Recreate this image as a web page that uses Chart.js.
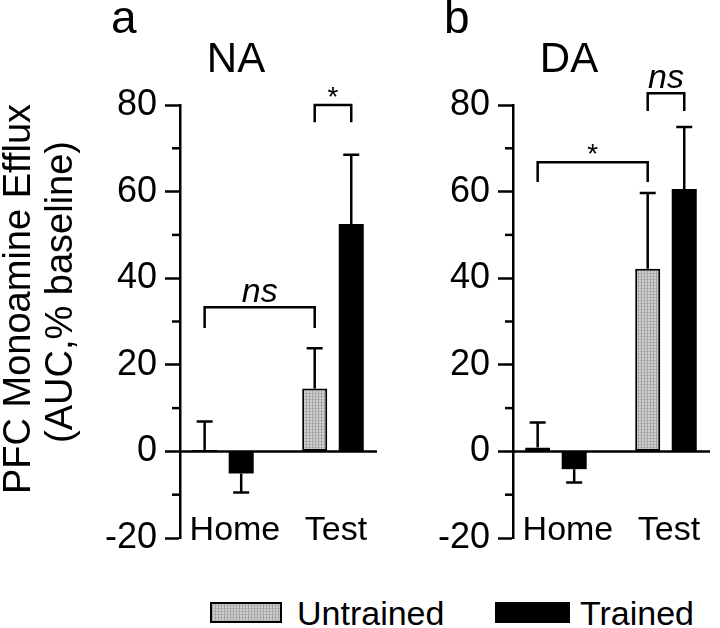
<!DOCTYPE html>
<html>
<head>
<meta charset="utf-8">
<script src="https://cdn.jsdelivr.net/npm/chart.js@4.4.1/dist/chart.umd.min.js"></script>
<style>
  html, body { margin: 0; padding: 0; background: #fff; }
  #wrap { position: relative; width: 720px; height: 628px; overflow: hidden; background: #fff; font-family: "Liberation Sans", Arial, sans-serif; }
  #cA { position: absolute; left: 0; top: 0; }
  #cB { position: absolute; left: 380px; top: 0; }
  .sw { position: absolute; box-sizing: border-box; border: 2px solid #000; }
  .sw.u { background-color: #d0d0d0;
    background-image: repeating-linear-gradient(90deg, #a4a4a4 0 1px, transparent 1px 3px),
                      repeating-linear-gradient(0deg, #b2b2b2 0 1px, transparent 1px 3px); }
  .sw.t { background: #000; }
  .lt { position: absolute; font-size: 34px; line-height: 34px; color: #000; white-space: nowrap; }
</style>
</head>
<body>
<div id="wrap">
  <canvas id="cA" width="380" height="580"></canvas>
  <canvas id="cB" width="340" height="580"></canvas>
  <div class="sw u" style="left:210px; top:602px; width:72px; height:21px;"></div>
  <div class="lt" style="left:297px; top:596px;">Untrained</div>
  <div class="sw t" style="left:495px; top:602px; width:75px; height:21px;"></div>
  <div class="lt" style="left:580px; top:596px;">Trained</div>
</div>
<script>
// ---- data ----
const categories = ['Home', 'Test'];
const seriesNames = ['Untrained', 'Trained'];
const panelLetters = ['a', 'b'];
const panelTitles = ['NA', 'DA'];
const yTitle = ['PFC Monoamine Efflux', '(AUC,% baseline)'];
const yTicks = [-20, 0, 20, 40, 60, 80];

const naUntrained = [0.3, 14.5];
const naUntrainedErr = [6.6, 9.3];
const naTrained = [-5.1, 52.5];
const naTrainedErr = [4.4, 16.0];

const daUntrained = [0.9, 42.2];
const daUntrainedErr = [5.8, 17.5];
const daTrained = [-4.1, 60.6];
const daTrainedErr = [3.1, 14.3];

// significance brackets: label, top level, leg level
const naBracketLabels = ['ns', '*'];
const naBracketTops = [33.3, 80.0];
const naBracketLegs = [28.5, 76.0];
const daBracketLabels = ['*', 'ns'];
const daBracketTops = [66.8, 82.7];
const daBracketLegs = [62.2, 78.6];

// ---- pattern for untrained bars ----
function makePattern(ctx) {
  const t = document.createElement('canvas');
  t.width = 3; t.height = 3;
  const g = t.getContext('2d');
  g.fillStyle = '#d0d0d0'; g.fillRect(0, 0, 3, 3);
  g.fillStyle = '#b2b2b2'; g.fillRect(0, 0, 3, 1);
  g.fillStyle = '#a4a4a4'; g.fillRect(0, 0, 1, 3);
  return ctx.createPattern(t, 'repeat');
}

const FONT = '"Liberation Sans", Arial, sans-serif';

function makePanel(canvasId, p, untr, untrErr, tr, trErr, brLabels, brTops, brLegs, brEnds, axisWidth, padRight, showYTitle) {
  const canvas = document.getElementById(canvasId);
  const ctx = canvas.getContext('2d');
  const pattern = makePattern(ctx);
  const errs = [untrErr, trErr];

  const overlay = {
    id: 'overlay' + p,
    afterDatasetsDraw(chart) {
      const c = chart.ctx;
      const ys = chart.scales.y;
      const xs = chart.scales.x;
      const ca = chart.chartArea;
      c.save();
      c.strokeStyle = '#000';
      c.fillStyle = '#000';
      c.lineWidth = 2.5;
      c.lineCap = 'butt';
      // error bars
      [0, 1].forEach(d => {
        const meta = chart.getDatasetMeta(d);
        const vals = chart.data.datasets[d].data;
        meta.data.forEach((bar, i) => {
          const v = vals[i].y;
          const tip = v >= 0 ? v + errs[d][i] : v - errs[d][i];
          const yt = ys.getPixelForValue(tip);
          c.beginPath();
          c.moveTo(bar.x, bar.y);
          c.lineTo(bar.x, yt);
          c.moveTo(bar.x - 8, yt);
          c.lineTo(bar.x + 8, yt);
          c.stroke();
        });
      });
      // zero baseline
      const y0 = ys.getPixelForValue(0);
      c.beginPath();
      c.moveTo(ca.left, y0);
      c.lineTo(ca.right, y0);
      c.stroke();
      // minor ticks
      for (let v = -10; v <= 70; v += 20) {
        const y = ys.getPixelForValue(v);
        c.beginPath();
        c.moveTo(ca.left - 8, y);
        c.lineTo(ca.left, y);
        c.stroke();
      }
      // brackets
      brEnds.forEach((e, k) => {
        const xa = chart.getDatasetMeta(e[0][0]).data[e[0][1]].x;
        const xb = chart.getDatasetMeta(e[1][0]).data[e[1][1]].x;
        const yt = ys.getPixelForValue(brTops[k]);
        const yl = ys.getPixelForValue(brLegs[k]);
        c.beginPath();
        c.moveTo(xa, yl);
        c.lineTo(xa, yt);
        c.lineTo(xb, yt);
        c.lineTo(xb, yl);
        c.stroke();
        c.textAlign = 'center';
        c.textBaseline = 'alphabetic';
        if (brLabels[k] === '*') {
          c.font = '28px ' + FONT;
          c.fillText('*', (xa + xb) / 2, yt + 1);
        } else {
          c.font = 'italic 34px ' + FONT;
          c.fillText(brLabels[k], (xa + xb) / 2, yt - 5);
        }
      });
      // category labels
      c.font = '34px ' + FONT;
      c.textBaseline = 'alphabetic';
      c.textAlign = 'center';
      const shifts = [12, 3];
      categories.forEach((lab, i) => {
        c.fillText(lab, xs.getPixelForValue(i + 1) + shifts[i], ca.bottom + 2);
      });
      // panel letter and title
      c.textAlign = 'left';
      c.font = '46px ' + FONT;
      c.fillText(panelLetters[p], ca.left - 69, 33);
      c.textAlign = 'center';
      c.font = '42px ' + FONT;
      c.fillText(panelTitles[p], ca.left + 56, 72);
      // y title
      if (showYTitle) {
        c.font = '38px ' + FONT;
        c.save();
        c.translate(30, 299);
        c.rotate(-Math.PI / 2);
        c.fillText(yTitle[0], 0, 0);
        c.restore();
        c.save();
        c.translate(72, 292);
        c.rotate(-Math.PI / 2);
        c.fillText(yTitle[1], 0, 0);
        c.restore();
      }
      c.restore();
    }
  };

  return new Chart(ctx, {
    type: 'bar',
    data: {
      datasets: [
        { label: seriesNames[0], data: untr.map((v, i) => ({ x: i + 1, y: v })),
          backgroundColor: pattern, borderColor: '#000', borderWidth: 2, borderSkipped: false,
          categoryPercentage: 0.664, barPercentage: 0.685 },
        { label: seriesNames[1], data: tr.map((v, i) => ({ x: i + 1, y: v })),
          backgroundColor: '#000', borderColor: '#000', borderWidth: 0,
          categoryPercentage: 0.664, barPercentage: 0.685 }
      ]
    },
    options: {
      responsive: false,
      animation: false,
      devicePixelRatio: 1,
      layout: { padding: { left: 0, top: 105, right: padRight, bottom: 42 } },
      plugins: { legend: { display: false }, tooltip: { enabled: false } },
      scales: {
        x: {
          type: 'linear', display: false, offset: false, min: 0.61, max: 2.4,
          afterBuildTicks: s => { s.ticks = categories.map((c, i) => ({ value: i + 1 })); }
        },
        y: {
          min: -20, max: 80,
          afterFit: s => { s.width = axisWidth; },
          border: { display: true, color: '#000', width: 2.5 },
          grid: {
            display: true, drawOnChartArea: false, drawTicks: true, tickLength: 15,
            tickWidth: 2.5,
            tickColor: c => (yTicks.includes(c.tick.value) ? '#000' : 'rgba(0,0,0,0)')
          },
          ticks: {
            stepSize: 10, autoSkip: false, padding: 8, color: '#000',
            font: { family: FONT, size: 36 },
            callback: v => (yTicks.includes(v) ? String(v) : '')
          }
        }
      }
    },
    plugins: [overlay]
  });
}

makePanel('cA', 0, naUntrained, naUntrainedErr, naTrained, naTrainedErr,
  naBracketLabels, naBracketTops, naBracketLegs, [[[0, 0], [0, 1]], [[0, 1], [1, 1]]], 180, 3, true);
makePanel('cB', 1, daUntrained, daUntrainedErr, daTrained, daTrainedErr,
  daBracketLabels, daBracketTops, daBracketLegs, [[[0, 0], [0, 1]], [[0, 1], [1, 1]]], 133, 10, false);
</script>
</body>
</html>
